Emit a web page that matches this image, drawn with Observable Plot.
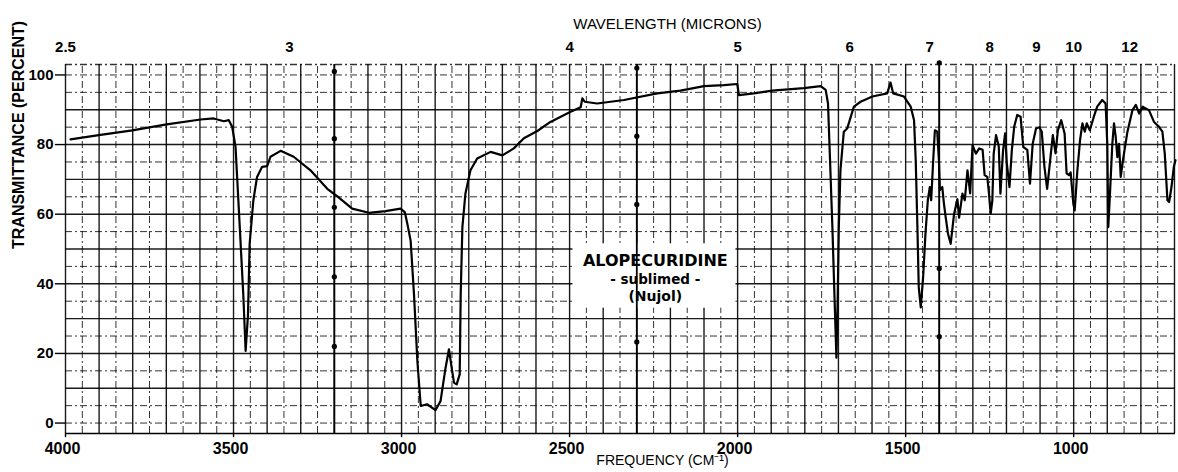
<!DOCTYPE html>
<html><head><meta charset="utf-8">
<script src="https://cdn.jsdelivr.net/npm/d3@7"></script>
<script src="https://cdn.jsdelivr.net/npm/@observablehq/plot@0.6"></script>
<style>
body{margin:0;background:#fff}
#chart svg{overflow:visible}
</style>
</head><body><div id="chart"></div><script>
// Spectrum: frequency (cm^-1) and transmittance (%)
const nu = [3985,3901,3801,3699,3598,3559,3529,3514,3504,3494,3484,3471,3464,3457,3452,3441,3430,3415,3400,3390,3360,3321,3271,3221,3191,3147,3097,3048,3003,2990,2983,2973,2963,2953,2943,2924,2899,2884,2869,2859,2851,2844,2836,2827,2824,2819,2810,2795,2775,2735,2700,2666,2636,2596,2557,2497,2467,2462,2455,2418,2338,2239,2170,2100,2041,2001,1996,1952,1897,1803,1753,1738,1731,1725,1718,1712,1706,1702,1699,1694,1684,1674,1654,1634,1599,1555,1545,1537,1505,1485,1475,1470,1465,1461,1455,1448,1441,1434,1428,1424,1418,1413,1406,1401,1398,1391,1386,1381,1374,1366,1356,1346,1341,1331,1324,1316,1308,1301,1291,1281,1271,1265,1257,1252,1247,1242,1238,1231,1223,1218,1210,1204,1199,1191,1184,1177,1168,1158,1150,1138,1130,1122,1112,1102,1095,1087,1079,1069,1062,1054,1047,1037,1027,1021,1014,1009,1001,997,989,981,974,967,961,952,940,930,915,905,900,897,892,885,880,875,870,865,860,852,840,825,815,805,795,776,761,746,736,729,721,716,709,702,697];
const transmittance = [81.5,82.7,84.1,85.8,87.2,87.5,86.7,87.0,85.1,79.3,61,37,20.7,31,51.5,64,70.7,73.6,73.8,76.5,78.2,76.5,72.6,67.3,65.1,61.6,60.4,60.9,61.6,60.5,57.3,52.4,37,17.9,4.9,5.4,3.7,6.3,15.9,21.2,16,11.6,11.1,14,37,56.3,65.9,72.6,76,77.9,76.9,78.9,81.8,83.9,86.5,89.4,90.7,93.3,92.3,91.8,92.8,94.7,95.5,96.8,97.1,97.4,94.2,94.7,95.5,96.2,96.8,95.7,91.8,75.5,56.3,37.1,18.8,37,56,72.6,83.7,84.6,90.9,92.3,93.8,94.7,97.8,94.7,93.8,90.9,87,75.5,56.3,39,33.2,41.9,54.4,64,67.8,64,75.5,84.1,83.7,75.5,66.9,67.8,63,59.2,54.4,51.5,60,64.3,59,65.9,64,72.6,66,79.8,77.4,78.9,78.5,71.2,70.7,65.9,60.1,64,77.4,82.7,79.5,65.9,78.4,83.2,74.6,67.8,78.4,85.1,88.5,88,79.3,78.5,68.8,80.2,84.6,85,83.7,73.6,67.3,76.4,82.7,77.5,84.1,87,83.2,71.7,71.2,72,63,61.1,72.6,81.3,86.1,83.7,86.1,84.1,88,90.9,92.8,91.8,80.2,56.3,65.9,80.2,86.1,82.3,76.4,80.2,70.7,76.4,83.7,89.9,91.4,88.9,90.9,89.9,86.5,85.1,83.7,77.5,64,63.5,67.8,73.6,75.5];

// Axis tick labels
const freqTicks = [4000,3500,3000,2500,2000,1500,1000];
const percentTicks = [0,20,40,60,80,100];
const micronValues = [2.5,3,4,5,6,7,8,9,10,12];
const micronLabels = ["2.5","3","4","5","6","7","8","9","10","12"];

// Chart-paper calibration marks
const calNu = [3200,3200,3200,3200,3200,2300,2300,2300,2300,1400,1400,1400];
const calT  = [101,81.7,62,42,22,102,82.4,62.8,23.3,103.5,44.4,24.8];

// Sample annotation
const labelLines = ["ALOPECURIDINE","- sublimed -","(Nujol)"];
const labelNu = 2245;
const labelT = 41.6;
const labelBox = {x1: 2490, x2: 2005, y1: 33, y2: 51.5};

const spectrum = nu.map((n, i) => ({nu: n, t: transmittance[i]}));
const calMarks = calNu.map((n, i) => ({nu: n, t: calT[i]}));
const micronNu = micronValues.map(l => 10000 / l);

const xMin = 697, xMax = 4000, yLo = -3, yHi = 103;
const grid100 = d3.range(700, 4001, 100);
const grid50 = d3.range(750, 4000, 100);
const hSolid = d3.range(10, 100, 10);
const hDash = d3.range(5, 100, 10).concat([0, 100]);

const font = "'Liberation Sans', Arial, sans-serif";
const solid = {stroke: "#000", strokeWidth: 1.4, strokeOpacity: 0.9};
const dashed = {stroke: "#000", strokeWidth: 1, strokeOpacity: 0.8, strokeDasharray: "7,3,2,3"};
const tickText = {fontFamily: font, fontWeight: "bold", fill: "#000"};

const chart = Plot.plot({
  width: 1178, height: 472,
  marginTop: 64, marginBottom: 39, marginLeft: 65, marginRight: 3,
  x: {domain: [xMax, xMin], axis: null},
  y: {domain: [yLo, yHi], axis: null},
  style: {fontFamily: font, background: "white", color: "#000"},
  marks: [
    Plot.ruleX(grid50, {y1: yLo, y2: yHi, ...dashed}),
    Plot.ruleY(hDash, {x1: xMax, x2: xMin, ...dashed}),
    Plot.ruleX(grid100, {y1: yLo, y2: yHi, ...solid}),
    Plot.ruleY(hSolid, {x1: xMax, x2: xMin, ...solid}),
    Plot.ruleY([yLo], {x1: xMax, x2: xMin, stroke: "#000", strokeWidth: 1.6}),
    Plot.ruleY([yHi], {x1: xMax, x2: xMin, ...dashed, strokeWidth: 1.3}),
    Plot.rect([labelBox], {x1: "x1", x2: "x2", y1: "y1", y2: "y2", fill: "white"}),
    Plot.ruleX([3200, 2300, 1400], {y1: yLo, y2: yHi, stroke: "#000", strokeWidth: 1.8}),
    Plot.dot(calMarks, {x: "nu", y: "t", r: 2.6, fill: "#000"}),
    Plot.line(spectrum, {x: "nu", y: "t", stroke: "#000", strokeWidth: 2.2, strokeLinejoin: "round", strokeLinecap: "round"}),
    Plot.text([labelLines[0]], {x: labelNu, y: labelT, dy: -17, fontFamily: "'DejaVu Sans', sans-serif", fontWeight: "bold", fontSize: 16, fill: "#000"}),
    Plot.text([labelLines[1]], {x: labelNu, y: labelT, dy: 1, fontFamily: "'DejaVu Sans', sans-serif", fontWeight: "bold", fontSize: 13.5, fill: "#000"}),
    Plot.text([labelLines[2]], {x: labelNu, y: labelT, dy: 18, fontFamily: "'DejaVu Sans', sans-serif", fontWeight: "bold", fontSize: 14, fill: "#000"}),
    // bottom frequency axis
    Plot.ruleX(freqTicks, {y1: yLo, y2: yLo - 1.2, stroke: "#000", strokeWidth: 1.4}),
    Plot.text(freqTicks, {x: d => d, y: yLo, dy: 15, dx: -3, text: d => String(d), fontSize: 16, ...tickText}),
    // top wavelength axis
    Plot.text(micronNu, {x: d => d, y: yHi, dy: -17, text: (d, i) => micronLabels[i], fontSize: 15, ...tickText}),
    // left percent axis
    Plot.ruleY(percentTicks, {x1: xMax, x2: xMax + 30, stroke: "#000", strokeWidth: 1.4}),
    Plot.text(percentTicks, {x: xMax, y: d => d, dx: -12, textAnchor: "end", text: d => String(d), fontSize: 15, ...tickText}),
    // axis titles
    Plot.text(["WAVELENGTH (MICRONS)"], {frameAnchor: "top", dx: 47, dy: -46, fontSize: 15, fill: "#000"}),
    Plot.text(["FREQUENCY (CM⁻¹)"], {frameAnchor: "bottom", dx: 42, dy: 31, fontSize: 14, fill: "#000"}),
    Plot.text(["TRANSMITTANCE (PERCENT)"], {frameAnchor: "left", rotate: -90, dx: -47, fontSize: 16, fontWeight: "bold", fill: "#000"})
  ]
});
document.getElementById("chart").appendChild(chart);
</script></body></html>
